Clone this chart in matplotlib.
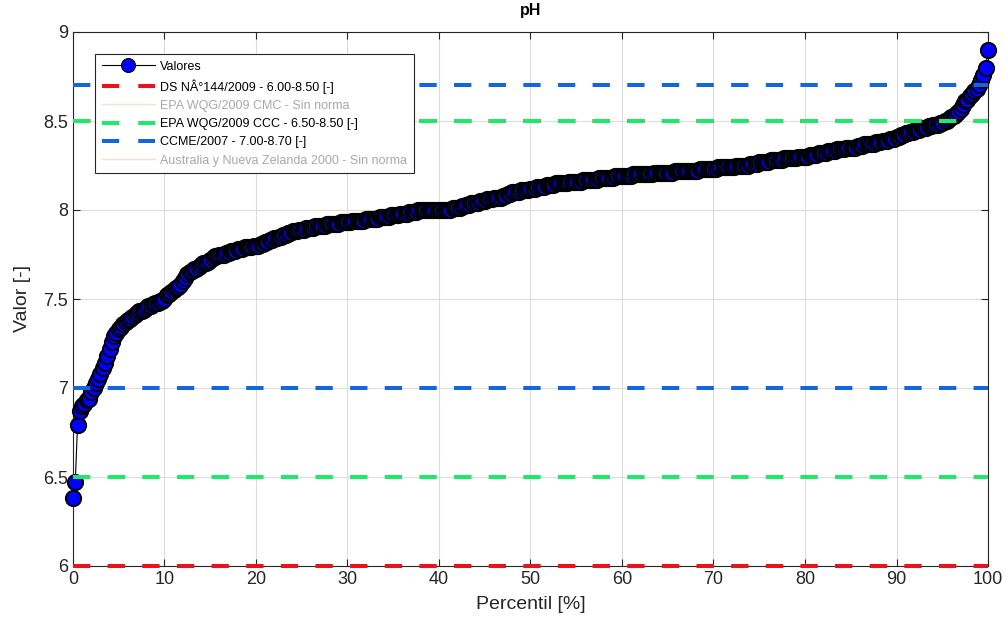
import matplotlib
matplotlib.use('Agg')
import matplotlib.pyplot as plt
import numpy as np
from matplotlib.lines import Line2D
from matplotlib.ticker import FormatStrFormatter, MultipleLocator

plt.rcParams['font.family'] = ['Liberation Sans', 'DejaVu Sans']

# pH sorted values, one every 0.25 percentile
ph_values = [
    6.38, 6.47, 6.79, 6.87, 6.90, 6.91, 6.93, 6.94, 6.98, 7.00, 7.03, 7.05, 7.08, 7.11, 7.14, 7.18, 7.22, 7.26, 7.29, 7.31,
    7.33, 7.34, 7.36, 7.37, 7.38, 7.39, 7.40, 7.41, 7.42, 7.43, 7.43, 7.44, 7.45, 7.46, 7.46, 7.47, 7.48, 7.48, 7.49, 7.49,
    7.50, 7.52, 7.53, 7.54, 7.55, 7.56, 7.57, 7.58, 7.60, 7.62, 7.64, 7.65, 7.66, 7.67, 7.67, 7.68, 7.69, 7.70, 7.70, 7.71,
    7.72, 7.73, 7.74, 7.74, 7.75, 7.75, 7.75, 7.76, 7.76, 7.77, 7.77, 7.77, 7.78, 7.78, 7.78, 7.79, 7.79, 7.79, 7.79, 7.80,
    7.80, 7.80, 7.81, 7.81, 7.82, 7.82, 7.83, 7.83, 7.84, 7.84, 7.85, 7.85, 7.86, 7.86, 7.87, 7.87, 7.88, 7.88, 7.88, 7.89,
    7.89, 7.89, 7.90, 7.90, 7.90, 7.90, 7.91, 7.91, 7.91, 7.91, 7.91, 7.92, 7.92, 7.92, 7.92, 7.92, 7.92, 7.93, 7.93, 7.93,
    7.93, 7.93, 7.94, 7.94, 7.94, 7.94, 7.94, 7.94, 7.95, 7.95, 7.95, 7.95, 7.95, 7.95, 7.96, 7.96, 7.96, 7.96, 7.96, 7.97,
    7.97, 7.97, 7.97, 7.98, 7.98, 7.98, 7.98, 7.99, 7.99, 7.99, 7.99, 8.00, 8.00, 8.00, 8.00, 8.00, 8.00, 8.00, 8.00, 8.00,
    8.00, 8.00, 8.00, 8.00, 8.00, 8.00, 8.01, 8.01, 8.01, 8.01, 8.02, 8.02, 8.03, 8.03, 8.04, 8.04, 8.04, 8.04, 8.05, 8.05,
    8.05, 8.06, 8.06, 8.06, 8.07, 8.07, 8.07, 8.07, 8.08, 8.08, 8.09, 8.09, 8.10, 8.10, 8.10, 8.10, 8.11, 8.11, 8.11, 8.11,
    8.12, 8.12, 8.12, 8.13, 8.13, 8.13, 8.13, 8.14, 8.14, 8.14, 8.14, 8.15, 8.15, 8.15, 8.15, 8.15, 8.15, 8.16, 8.16, 8.16,
    8.16, 8.16, 8.16, 8.17, 8.17, 8.17, 8.17, 8.17, 8.17, 8.17, 8.18, 8.18, 8.18, 8.18, 8.18, 8.18, 8.18, 8.19, 8.19, 8.19,
    8.19, 8.19, 8.19, 8.19, 8.19, 8.20, 8.20, 8.20, 8.20, 8.20, 8.20, 8.20, 8.20, 8.20, 8.21, 8.21, 8.21, 8.21, 8.21, 8.21,
    8.21, 8.21, 8.21, 8.22, 8.22, 8.22, 8.22, 8.22, 8.22, 8.22, 8.22, 8.22, 8.22, 8.22, 8.23, 8.23, 8.23, 8.23, 8.23, 8.23,
    8.23, 8.23, 8.24, 8.24, 8.24, 8.24, 8.24, 8.24, 8.24, 8.24, 8.25, 8.25, 8.25, 8.25, 8.25, 8.25, 8.26, 8.26, 8.26, 8.26,
    8.27, 8.27, 8.27, 8.27, 8.27, 8.28, 8.28, 8.28, 8.28, 8.28, 8.28, 8.29, 8.29, 8.29, 8.29, 8.29, 8.29, 8.30, 8.30, 8.30,
    8.30, 8.30, 8.31, 8.31, 8.31, 8.31, 8.32, 8.32, 8.32, 8.32, 8.33, 8.33, 8.33, 8.33, 8.34, 8.34, 8.34, 8.34, 8.35, 8.35,
    8.35, 8.35, 8.35, 8.36, 8.36, 8.36, 8.37, 8.37, 8.37, 8.37, 8.37, 8.38, 8.38, 8.38, 8.39, 8.39, 8.39, 8.40, 8.40, 8.40,
    8.41, 8.41, 8.42, 8.42, 8.43, 8.43, 8.44, 8.44, 8.45, 8.45, 8.45, 8.46, 8.46, 8.46, 8.47, 8.47, 8.48, 8.48, 8.48, 8.49,
    8.49, 8.50, 8.50, 8.51, 8.52, 8.53, 8.54, 8.55, 8.57, 8.59, 8.61, 8.62, 8.64, 8.65, 8.67, 8.68, 8.70, 8.73, 8.76, 8.80,
    8.90,
]
percentiles = np.linspace(0, 100, len(ph_values))

# reference standards; None -> no limits defined
norm_labels = ['DS NÂ°144/2009 - 6.00-8.50 [-]',
               'EPA WQG/2009 CMC - Sin norma',
               'EPA WQG/2009 CCC - 6.50-8.50 [-]',
               'CCME/2007 - 7.00-8.70 [-]',
               'Australia y Nueva Zelanda 2000 - Sin norma']
norm_limits = [(6.00, 8.50), None, (6.50, 8.50), (7.00, 8.70), None]
norm_colors = ['#e8141c', '#efe2d4', '#1fe86a', '#1466dc', '#efe2d4']

fig = plt.figure(figsize=(10.05, 6.25), dpi=100)
ax = fig.add_axes([0.0726, 0.0944, 0.9105, 0.8544])

marker_kw = dict(marker='o', markerfacecolor='#0000ff',
                 markeredgecolor='black', markeredgewidth=1.4)
ax.plot(percentiles, ph_values, color='black', linewidth=0.8, markersize=11,
        zorder=3, clip_on=False, **marker_kw)

handles = [Line2D([], [], color='black', linewidth=0.8, markersize=10,
                  markeredgewidth=0.8, marker='o', markerfacecolor='#0000ff',
                  markeredgecolor='black')]
for lims, col in zip(norm_limits, norm_colors):
    if lims is None:
        handles.append(Line2D([], [], color=col, linewidth=1.0))
        continue
    for v in lims:
        ax.axhline(v, color=col, linewidth=2.9, linestyle=(0, (4.3, 4.3)),
                   zorder=4, clip_on=False)
    handles.append(Line2D([], [], color=col, linewidth=2.9,
                          linestyle=(0, (4.25, 4.75))))

ax.set_xlim(0, 100)
ax.set_ylim(6, 9)
ax.xaxis.set_major_locator(MultipleLocator(10))
ax.yaxis.set_major_locator(MultipleLocator(0.5))
ax.yaxis.set_major_formatter(FormatStrFormatter('%g'))
ax.grid(True, color='#dcdcdc', linewidth=0.8)
ax.set_axisbelow(True)
ax.tick_params(direction='in', top=True, right=True, length=5,
               labelsize=13, colors='#262626', width=0.8)
for s in ax.spines.values():
    s.set_color('#262626')
    s.set_linewidth(0.8)

ax.set_xlabel('Percentil [%]', fontsize=14, color='#262626', labelpad=6)
ax.set_ylabel('Valor [-]', fontsize=14, color='#262626', labelpad=9)
ax.set_title('pH', fontsize=11.5, fontweight='bold', pad=12)

leg = ax.legend(handles, ['Valores'] + norm_labels, loc='upper left',
                bbox_to_anchor=(0.024, 0.959), borderaxespad=0,
                fontsize=9, fancybox=False, edgecolor='#262626', framealpha=1,
                handlelength=4.24, labelspacing=0.5, handletextpad=0.45, borderpad=0.55)
leg.get_frame().set_linewidth(0.8)
for txt, lims in zip(leg.get_texts()[1:], norm_limits):
    if lims is None:
        txt.set_color('#a8a8a8')

fig.savefig('out.png', dpi=100)
plt.close(fig)
